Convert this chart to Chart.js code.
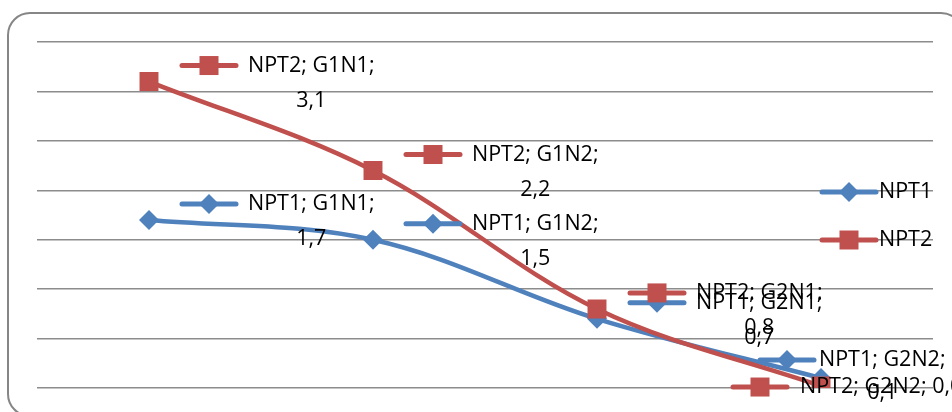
<!DOCTYPE html>
<html>
<head>
<meta charset="utf-8">
<script src="https://cdn.jsdelivr.net/npm/chart.js@4.4.1/dist/chart.umd.min.js"></script>
<style>
  html, body { margin: 0; padding: 0; background: #fff; }
  #wrap { width: 952px; height: 412px; position: relative; }
</style>
</head>
<body>
<div id="wrap"><canvas id="chart"></canvas></div>
<script>
// --- data ---
const categories = ["G1N1", "G1N2", "G2N1", "G2N2"];
const seriesNames = ["NPT1", "NPT2"];
const npt1Values = [1.7, 1.5, 0.7, 0.1];
const npt2Values = [3.1, 2.2, 0.8, 0.02];
const yTicks = [0, 0.5, 1, 1.5, 2, 2.5, 3, 3.5];

const BLUE = "#4F81BD";
const RED = "#C0504D";
const FONT = '21.5px "Open Sans"';

function fmt(v) {
  return v.toFixed(1).replace(".", ",");
}

// small legend key: line + marker
function drawKey(ctx, x0, y, color, style) {
  ctx.save();
  ctx.strokeStyle = color;
  ctx.fillStyle = color;
  ctx.lineWidth = 5;
  ctx.lineCap = "round";
  ctx.beginPath();
  ctx.moveTo(x0, y);
  ctx.lineTo(x0 + 54, y);
  ctx.stroke();
  const cx = x0 + 27;
  if (style === "rect") {
    ctx.fillRect(cx - 9.5, y - 9.5, 19, 19);
  } else {
    ctx.beginPath();
    ctx.moveTo(cx, y - 10);
    ctx.lineTo(cx + 10, y);
    ctx.lineTo(cx, y + 10);
    ctx.lineTo(cx - 10, y);
    ctx.closePath();
    ctx.fill();
  }
  ctx.restore();
}

// --- rounded frame behind everything ---
const framePlugin = {
  id: "frame",
  beforeDraw(chart) {
    const ctx = chart.ctx;
    ctx.save();
    ctx.fillStyle = "#fff";
    ctx.fillRect(0, 0, chart.width, chart.height);
    ctx.strokeStyle = "#868686";
    ctx.lineWidth = 2;
    ctx.beginPath();
    ctx.roundRect(8, 13, 955, 403, 22);
    ctx.stroke();
    ctx.restore();
  },
};

// --- data labels with legend keys (Excel style) ---
const labelPlugin = {
  id: "labels",
  afterDatasetsDraw(chart) {
    const ctx = chart.ctx;
    ctx.save();
    ctx.font = FONT;
    ctx.fillStyle = "#000";
    ctx.textBaseline = "middle";
    const last = categories.length - 1;
    chart.data.datasets.forEach((ds, di) => {
      const meta = chart.getDatasetMeta(di);
      meta.data.forEach((pt, i) => {
        const head = ds.label + "; " + categories[i] + ";";
        const val = fmt(ds.data[i]);
        if (i === last) {
          if (ds.pointStyle === "rect") {
            // single line, pushed left, runs off the edge
            const x0 = pt.x - 88;
            drawKey(ctx, x0, pt.y + 1, ds.borderColor, ds.pointStyle);
            ctx.textAlign = "left";
            ctx.fillText(head + " " + val, x0 + 67, pt.y + 1);
          } else {
            const x0 = pt.x - 61;
            drawKey(ctx, x0, pt.y - 18, ds.borderColor, ds.pointStyle);
            ctx.textAlign = "left";
            ctx.fillText(head, x0 + 59, pt.y - 18);
            const w = ctx.measureText(head).width;
            ctx.textAlign = "center";
            ctx.fillText(val, x0 + 59 + w / 2, pt.y + 15);
          }
          return;
        }
        const x0 = pt.x + 33;
        const y1 = pt.y - 16;
        drawKey(ctx, x0, y1, ds.borderColor, ds.pointStyle);
        ctx.textAlign = "left";
        ctx.fillText(head, x0 + 66, y1);
        const w = ctx.measureText(head).width;
        ctx.textAlign = "center";
        ctx.fillText(val, x0 + 66 + w / 2, pt.y + 19);
      });
    });

    // legend on the right
    chart.data.datasets.forEach((ds, di) => {
      const y = 192 + di * 48;
      drawKey(ctx, 822, y, ds.borderColor, ds.pointStyle);
      ctx.textAlign = "left";
      ctx.fillText(ds.label, 879, y);
    });
    ctx.restore();
  },
};

new Chart(document.getElementById("chart"), {
  type: "line",
  data: {
    labels: categories,
    datasets: [
      {
        label: seriesNames[0],
        data: npt1Values,
        borderColor: BLUE,
        backgroundColor: BLUE,
        borderWidth: 4.5,
        pointStyle: "rectRot",
        pointRadius: 10,
        pointBorderWidth: 0,
        tension: 0.35,
        order: 1,
      },
      {
        label: seriesNames[1],
        data: npt2Values,
        borderColor: RED,
        backgroundColor: RED,
        borderWidth: 4.5,
        pointStyle: "rect",
        pointRadius: 13.4,
        pointBorderWidth: 0,
        tension: 0.35,
        order: 0,
      },
    ],
  },
  options: {
    responsive: true,
    maintainAspectRatio: false,
    animation: false,
    layout: { padding: { left: 37, right: 19, top: 42, bottom: 24 } },
    plugins: {
      legend: { display: false },
      tooltip: { enabled: false },
    },
    scales: {
      x: { display: false, offset: true },
      y: {
        min: yTicks[0],
        max: yTicks[yTicks.length - 1],
        afterBuildTicks: (axis) => {
          axis.ticks = yTicks.map((v) => ({ value: v }));
        },
        ticks: { display: false },
        border: { display: false },
        grid: { color: "#8c8c8c", lineWidth: 1.5, drawTicks: false },
      },
    },
  },
  plugins: [framePlugin, labelPlugin],
});
</script>
</body>
</html>
